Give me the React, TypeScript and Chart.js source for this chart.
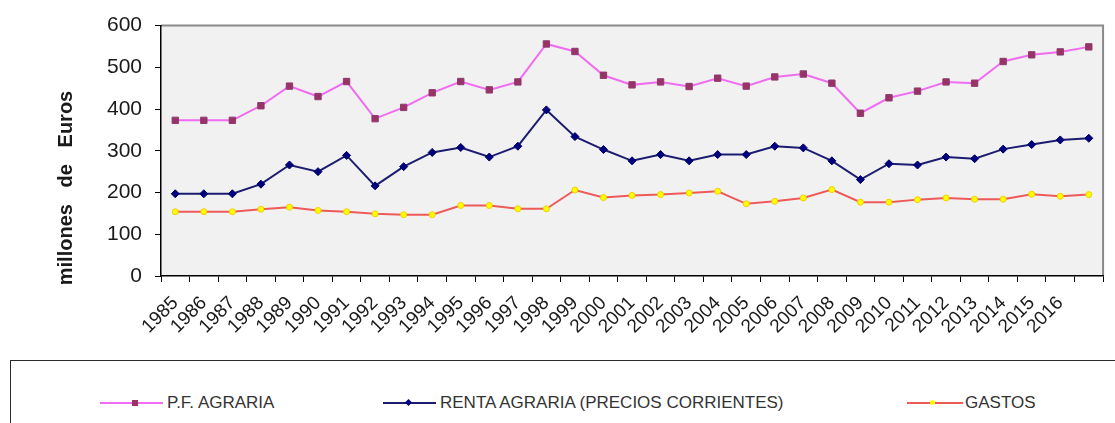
import React, { useEffect, useRef } from "react";
import { Chart, registerables } from "chart.js";

Chart.register(...registerables);

const years = [
  "1985", "1986", "1987", "1988", "1989", "1990", "1991", "1992", "1993", "1994",
  "1995", "1996", "1997", "1998", "1999", "2000", "2001", "2002", "2003", "2004",
  "2005", "2006", "2007", "2008", "2009", "2010", "2011", "2012", "2013", "2014",
  "2015", "2016", "",
];

const pfAgraria = [
  373, 373, 373, 408, 455, 430, 466, 377, 404, 439,
  466, 446, 465, 556, 538, 481, 458, 465, 454, 474,
  455, 477, 484, 462, 390, 427, 443, 465, 462, 514,
  530, 537, 549,
];

const rentaAgraria = [
  197, 197, 197, 220, 266, 250, 289, 216, 262, 296,
  308, 285, 311, 398, 334, 303, 276, 291, 276, 291,
  291, 311, 307, 276, 231, 269, 266, 285, 281, 304,
  315, 326, 330,
];

const gastos = [
  154, 154, 154, 160, 165, 157, 154, 149, 147, 147,
  169, 169, 161, 161, 206, 188, 193, 195, 199, 203,
  173, 179, 187, 207, 177, 177, 183, 187, 184, 184,
  196, 191, 195,
];

const yMin = 0;
const yMax = 600;
const yStep = 100;
const yTitle = "millones   de   Euros";
const seriesLabels = ["P.F. AGRARIA", "RENTA AGRARIA (PRECIOS CORRIENTES)", "GASTOS"];

const FONT = "Arial, 'Liberation Sans', sans-serif";

const plotFrame = {
  id: "plotFrame",
  beforeDraw(chart: any) {
    const { ctx, chartArea } = chart;
    const { left, top, right, bottom } = chartArea;
    ctx.save();
    ctx.fillStyle = "#f1f1f1";
    ctx.fillRect(left, top, right - left, bottom - top);
    ctx.strokeStyle = "#8a8a8a";
    ctx.lineWidth = 2;
    ctx.beginPath();
    ctx.moveTo(left, top);
    ctx.lineTo(right, top);
    ctx.lineTo(right, bottom);
    ctx.stroke();
    ctx.restore();
  },
  afterDraw(chart: any) {
    const { ctx } = chart;
    ctx.save();
    ctx.translate(66, 188);
    ctx.rotate(-Math.PI / 2);
    ctx.textAlign = "center";
    ctx.textBaseline = "middle";
    ctx.font = `bold 20px ${FONT}`;
    ctx.fillStyle = "#1a1a1a";
    ctx.fillText(yTitle, 0, 0);
    ctx.restore();
  },
};

function ChartCanvas() {
  const ref = useRef<HTMLCanvasElement>(null);
  useEffect(() => {
    if (!ref.current) return;
    const chart = new Chart(ref.current, {
      type: "line",
      data: {
        labels: years,
        datasets: [
          {
            label: seriesLabels[0],
            data: pfAgraria,
            borderColor: "#f06cf0",
            backgroundColor: "#993366",
            borderWidth: 2,
            pointStyle: "rect",
            pointRadius: 4.5,
            pointBorderColor: "#8e3b6e",
            pointBackgroundColor: "#993366",
            pointBorderWidth: 1,
            tension: 0,
          },
          {
            label: seriesLabels[1],
            data: rentaAgraria,
            borderColor: "#1c1c70",
            backgroundColor: "#000080",
            borderWidth: 2,
            pointStyle: "rectRot",
            pointRadius: 4,
            pointBorderColor: "#000060",
            pointBackgroundColor: "#000080",
            pointBorderWidth: 1,
            tension: 0,
          },
          {
            label: seriesLabels[2],
            data: gastos,
            borderColor: "#ee5a5a",
            backgroundColor: "#ffff00",
            borderWidth: 2,
            pointStyle: "circle",
            pointRadius: 3,
            pointBorderColor: "#f0d000",
            pointBackgroundColor: "#ffff00",
            pointBorderWidth: 1,
            tension: 0,
          },
        ],
      },
      options: {
        responsive: false,
        animation: false,
        layout: { padding: { top: 22, right: 4, left: 0, bottom: 0 } },
        plugins: {
          legend: { display: false },
          tooltip: { enabled: false },
          title: { display: false },
        },
        scales: {
          x: {
            type: "category",
            offset: true,
            afterFit: (scale: any) => {
              scale.height = 64;
            },
            grid: {
              offset: true,
              drawOnChartArea: false,
              drawTicks: true,
              tickLength: 6,
              color: "#000",
              lineWidth: 1,
            },
            border: { display: true, color: "#000", width: 1.5 },
            ticks: {
              autoSkip: false,
              maxRotation: 45,
              minRotation: 45,
              padding: 10,
              color: "#1a1a1a",
              font: { family: FONT, size: 19 },
            },
          },
          y: {
            min: yMin,
            max: yMax,
            afterFit: (scale: any) => {
              scale.width = 161;
            },
            grid: {
              drawOnChartArea: false,
              drawTicks: true,
              tickLength: 6,
              color: "#000",
              lineWidth: 1,
            },
            border: { display: true, color: "#000", width: 1.5 },
            ticks: {
              stepSize: yStep,
              padding: 13,
              color: "#1a1a1a",
              font: { family: FONT, size: 21 },
            },
          },
        },
      },
      plugins: [plotFrame],
    });
    return () => chart.destroy();
  }, []);
  return (
    <canvas
      ref={ref}
      width={1115}
      height={340}
      style={{ position: "absolute", left: 0, top: 0, width: 1115, height: 340 }}
    />
  );
}

type LegendItemProps = {
  lineLeft: number;
  lineWidth: number;
  lineColor: string;
  marker: React.ReactNode;
  textLeft: number;
  text: string;
};

function LegendItem({ lineLeft, lineWidth, lineColor, marker, textLeft, text }: LegendItemProps) {
  return (
    <>
      <div
        style={{
          position: "absolute",
          left: lineLeft,
          top: 402,
          width: lineWidth,
          height: 2,
          background: lineColor,
        }}
      />
      {marker}
      <div
        style={{
          position: "absolute",
          left: textLeft,
          top: 393,
          height: 20,
          lineHeight: "20px",
          fontFamily: FONT,
          fontSize: 17,
          color: "#333",
          whiteSpace: "nowrap",
        }}
      >
        {text}
      </div>
    </>
  );
}

export default function App() {
  return (
    <div
      style={{
        position: "absolute",
        left: 0,
        top: 0,
        width: 1115,
        height: 423,
        overflow: "hidden",
        background: "#fff",
      }}
    >
      <ChartCanvas />
      <div
        style={{
          position: "absolute",
          left: 10,
          top: 360,
          width: 1130,
          height: 100,
          border: "1.5px solid #2a2a2a",
          boxSizing: "border-box",
        }}
      />
      <LegendItem
        lineLeft={100}
        lineWidth={63}
        lineColor="#f06cf0"
        textLeft={167}
        text={seriesLabels[0]}
        marker={
          <div
            style={{
              position: "absolute",
              left: 132,
              top: 400,
              width: 6,
              height: 6,
              background: "#993366",
            }}
          />
        }
      />
      <LegendItem
        lineLeft={383}
        lineWidth={53}
        lineColor="#1c1c70"
        textLeft={440}
        text={seriesLabels[1]}
        marker={
          <div
            style={{
              position: "absolute",
              left: 406,
              top: 400,
              width: 5,
              height: 5,
              background: "#000080",
              transform: "rotate(45deg)",
            }}
          />
        }
      />
      <LegendItem
        lineLeft={907}
        lineWidth={56}
        lineColor="#ee5a5a"
        textLeft={965}
        text={seriesLabels[2]}
        marker={
          <div
            style={{
              position: "absolute",
              left: 930,
              top: 400,
              width: 5,
              height: 5,
              borderRadius: "50%",
              background: "#ffff00",
            }}
          />
        }
      />
    </div>
  );
}
